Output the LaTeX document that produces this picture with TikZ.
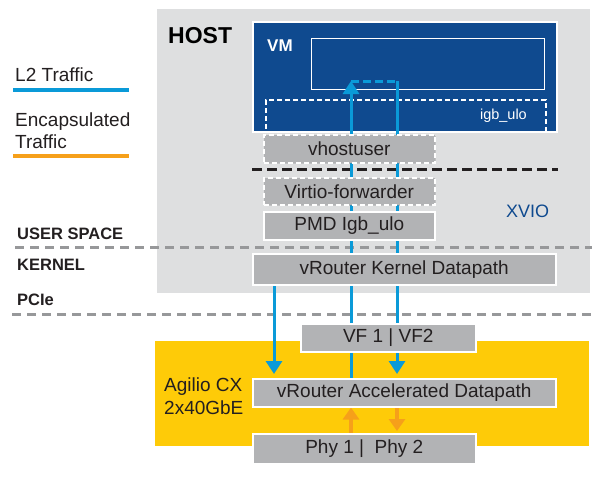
\documentclass[tikz,border=0pt]{standalone}
\usepackage{fontspec}
\setmainfont{Liberation Sans}
\usetikzlibrary{arrows.meta,shadows}
\definecolor{hostgray}{HTML}{DEDFE0}
\definecolor{boxgray}{HTML}{B2B3B5}
\definecolor{vmblue}{HTML}{0F4A8F}
\definecolor{l2blue}{HTML}{0A9AD8}
\definecolor{encorange}{HTML}{F6A01A}
\definecolor{agyellow}{HTML}{FECB08}
\definecolor{sepgray}{HTML}{97989A}
\definecolor{inkdark}{HTML}{231F20}
\pgfdeclarelayer{back}
\pgfdeclarelayer{flow}
\pgfsetlayers{back,flow,main}

\begin{document}
\begin{tikzpicture}[x=1pt,y=-1pt,
    panel/.style={draw=white,line width=1.5pt,inner sep=0pt,anchor=north west,
        drop shadow={shadow xshift=1.5pt,shadow yshift=-1.5pt,opacity=0.3}},
    grey box/.style={panel,fill=boxgray,text=inkdark,font=\fontsize{19}{21}\selectfont},
    dash box/.style={grey box,dash pattern=on 5pt off 3pt},
    plain text/.style={anchor=base west,inner sep=0pt},
    label text/.style={plain text,text=inkdark,font=\fontsize{19}{21}\selectfont},
    layer text/.style={plain text,text=inkdark,font=\fontsize{16.5}{18}\selectfont\bfseries},
    sep line/.style={draw=sepgray,line width=3pt,dash pattern=on 9pt off 6pt},
    l2 line/.style={draw=l2blue,line width=3pt},
    l2 flow/.style={l2 line,-{Triangle[width=16pt,length=13pt]}},
    encap line/.style={draw=encorange,line width=3.8pt},
    encap flow/.style={encap line,-{Triangle[width=16pt,length=12pt]}}]

    \useasboundingbox (0,0) rectangle (602,479);

    % legend
    \node[label text] (l2 key) at (15,81) {L2 Traffic};
    \node[label text] (encap key) at (15,126) {Encapsulated};
    \node[label text] (encap key2) at (15,148) {Traffic};
    \coordinate (l2 swatch) at (13,90);
    \coordinate (encap swatch) at (13,156);
    \draw[l2 line,line width=3.5pt] (l2 swatch) -- ++(116,0);
    \draw[encap line,line width=3.5pt] (encap swatch) -- ++(116,0);

    \node[layer text] (user) at (17,239) {USER SPACE};
    \node[layer text] (kern) at (17,270) {KERNEL};
    \node[layer text] (pcie) at (17,305) {PCIe};

    \begin{pgfonlayer}{back}
        \node[panel,fill=hostgray,minimum width=435pt,minimum height=286pt] (host) at (155,7) {};
        \node[panel,fill=vmblue,minimum width=304pt,minimum height=110pt] (vm) at (252,21) {};
        \node[draw=white,line width=1.3pt,anchor=north west,inner sep=0pt,
            minimum width=233pt,minimum height=51pt] (app) at (311,38) {};
        \node[draw=white,line width=1.5pt,dash pattern=on 5pt off 3pt,anchor=north west,inner sep=0pt,
            minimum width=280pt,minimum height=32pt] (igb) at (265,99) {};
        \node[panel,fill=agyellow,minimum width=436pt,minimum height=107pt] (agilio) at (153,339) {};

        \coordinate (split) at (0,169);
        \draw[draw=inkdark,line width=3pt,dash pattern=on 10pt off 5pt]
            (vm.west |- split) -- (vm.east |- split);
        \coordinate (sep user) at (15,247);
        \coordinate (sep pcie) at (12,314);
        \draw[sep line] (sep user) -- (sep user -| host.east);
        \draw[sep line] (sep pcie) -- (sep pcie -| host.east);
    \end{pgfonlayer}

    \node[plain text,font=\fontsize{23}{25}\selectfont\bfseries] (host label) at (168,43) {HOST};
    \node[plain text,text=white,font=\fontsize{17}{19}\selectfont\bfseries] (vm label) at (267,51) {VM};
    \node[plain text,anchor=base east,text=white,font=\fontsize{14.5}{16}\selectfont] (igb label) at (527,119) {igb\_ulo};
    \node[plain text,text=vmblue,font=\fontsize{18}{20}\selectfont] (xvio) at (506,217) {XVIO};

    \node[dash box,minimum width=171pt,minimum height=28pt] (vhost) at (263,134) {vhostuser};
    \node[dash box,minimum width=171pt,minimum height=27pt] (virtio) at (263,177) {Virtio-forwarder};
    \node[grey box,minimum width=171pt,minimum height=28pt] (pmd) at (263,211) {PMD Igb\_ulo};
    \node[grey box,minimum width=303pt,minimum height=31pt] (kernel) at (252,253) {vRouter Kernel Datapath};

    \node[label text] (agilio label) at (164,391) {Agilio CX};
    \node[label text] (agilio label2) at (164,414) {2x40GbE};
    \node[grey box,minimum width=175pt,minimum height=28pt] (vf) at (300,323) {VF 1 | VF2};
    \node[grey box,minimum width=303pt,minimum height=28pt] (accel) at (252,378) {vRouter Accelerated Datapath};
    \node[grey box,minimum width=223pt,minimum height=30pt] (phy) at (252,433) {Phy 1 | \ Phy 2};

    % traffic lanes
    \coordinate (down lane) at (274,0);
    \coordinate (up lane) at (351,0);
    \coordinate (back lane) at (397,0);
    \coordinate (turn) at (0,81);

    \begin{pgfonlayer}{flow}
        \draw[l2 flow,shorten >=4pt] (kernel.south -| down lane) -- (accel.north -| down lane);
        \draw[l2 line] (accel.north -| up lane) -- (kernel.south -| up lane);
        \draw[l2 flow] (kernel.north -| up lane) -- (turn -| up lane);
        \draw[l2 line,dash pattern=on 8pt off 4pt,shorten >=-1.5pt]
            (turn -| up lane) -- (turn -| back lane);
        \draw[l2 flow,shorten >=4pt] (turn -| back lane) -- (accel.north -| back lane);

        \draw[encap flow] (phy.north -| up lane) -- (accel.south -| up lane);
        \draw[encap flow,shorten >=2pt] (accel.south -| back lane) -- (phy.north -| back lane);
    \end{pgfonlayer}

\end{tikzpicture}
\end{document}
